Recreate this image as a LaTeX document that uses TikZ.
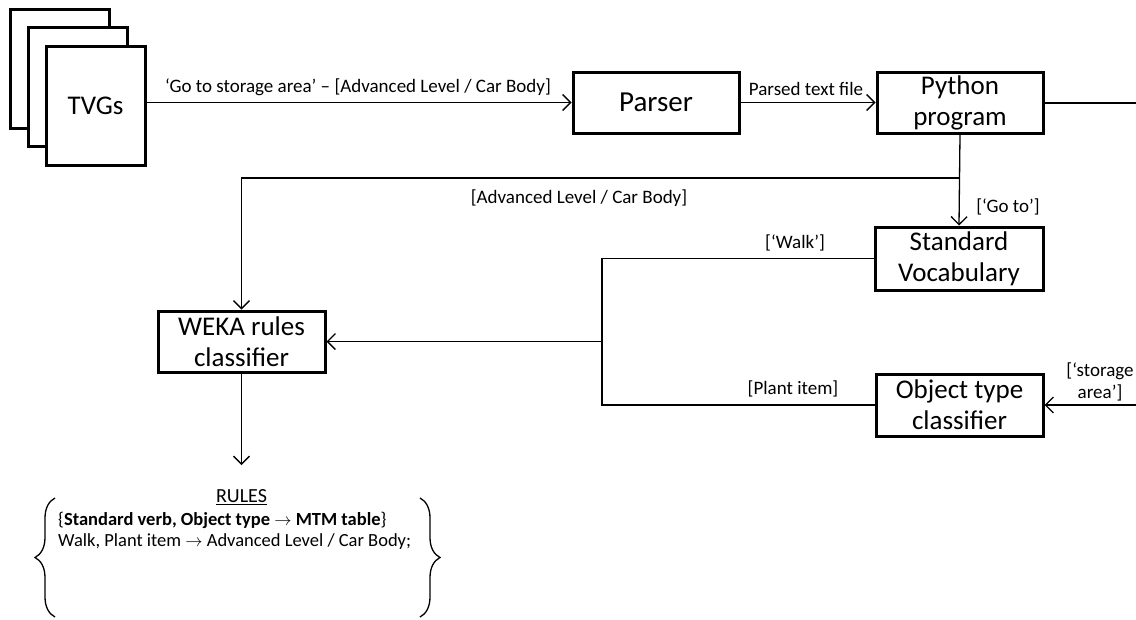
\documentclass[tikz,border=0pt]{standalone}
\usepackage{fontspec}
\setmainfont{Carlito}
\usetikzlibrary{arrows.meta, positioning, decorations.pathreplacing}

\begin{document}
\begin{tikzpicture}[
    x=1pt, y=-1pt,
    box/.style={draw, line width=3pt, minimum width=166pt, minimum height=61pt, inner sep=0pt, align=center, font=\fontsize{27}{31}\selectfont},
    page/.style={draw, fill=white, line width=3pt, minimum width=99pt, minimum height=119pt, inner sep=0pt, font=\fontsize{27}{31}\selectfont},
    conn/.style={line width=1.3pt},
    arrow/.style={conn, -{Straight Barb[length=8pt, width=16pt, line width=1.3pt]}},
    lbl/.style={font=\fontsize{19}{22}\selectfont, inner sep=0pt, align=center},
    rule/.style={font=\fontsize{18.5}{22}\selectfont, inner sep=0pt, anchor=west}
]
\useasboundingbox (0,0) rectangle (1136,619);

% TVG stack
\node[page] (tvgback) at (60,68.5) {};
\node[page] (tvgmid) at (78,86.5) {};
\node[page] (tvg) at (95.5,105.5) {TVGs};

% Boxes
\node[box, font=\fontsize{29}{31}\selectfont] (parser) at (656,102.5) {Parser};
\node[box] (python) at (960,103) {Python\\program};
\node[box, minimum width=168pt, minimum height=63pt] (stdvocab) at (959,258.5) {Standard\\Vocabulary};
\node[box, minimum width=167pt, minimum height=62pt] (objtype) at (959.5,405) {Object type\\classifier};
\node[box, minimum width=167pt] (weka) at (241.5,341.5) {WEKA rules\\classifier};

% Free ends
\coordinate (pyout) at (1136,103);
\coordinate (split) at (960,178);
\coordinate (merge) at (602,341.5);
\coordinate (objin) at (1136,405);
\coordinate (rulestop) at (241.5,465);

% Top row
\draw[arrow] (tvg.east |- parser.west) -- (parser.west);
\node[lbl] (goto) at (358,87) {‘Go to storage area’ – [Advanced Level / Car Body]};
\draw[arrow] (parser.east) -- (parser.east -| python.west);
\node[lbl] (parsedlbl) at (806,89) {Parsed text file};
\draw[conn] (python.east) -- (pyout);

% Python outputs
\draw[arrow] (python.south) -- (stdvocab.north);
\node[lbl] (gotolbl) at (1008,207) {[‘Go to’]};
\draw[arrow] (split) -| (weka.north);
\node[lbl] (levellbl) at (579,198) {[Advanced Level / Car Body]};

% Vocabulary and object type into WEKA
\draw[conn] (stdvocab.west) -| (merge) |- (objtype.west);
\draw[arrow] (merge) -- (weka.east);
\node[lbl] (walklbl) at (795,243) {[‘Walk’]};
\node[lbl] (plantlbl) at (793,389) {[Plant item]};
\draw[arrow] (objin) -- (objtype.east);
\node[lbl] (storagelbl) at (1100,382) {[‘storage\\area’]};

% Rules
\draw[arrow] (weka.south) -- (rulestop);
\node[lbl, font=\fontsize{20}{22}\selectfont] (rules) at (241.5,497) {\underline{RULES}};
\node[rule] (rule1) at (58,520) {\{\textbf{Standard verb, Object type $\rightarrow$ MTM table}\}};
\node[rule] (rule2) at (58,542) {Walk, Plant item $\rightarrow$ Advanced Level / Car Body;};
\draw[conn, decorate, decoration={brace, amplitude=20pt}] (55,617) -- (55,498);
\draw[conn, decorate, decoration={brace, amplitude=20pt}] (420,498) -- (420,617);
\end{tikzpicture}
\end{document}
